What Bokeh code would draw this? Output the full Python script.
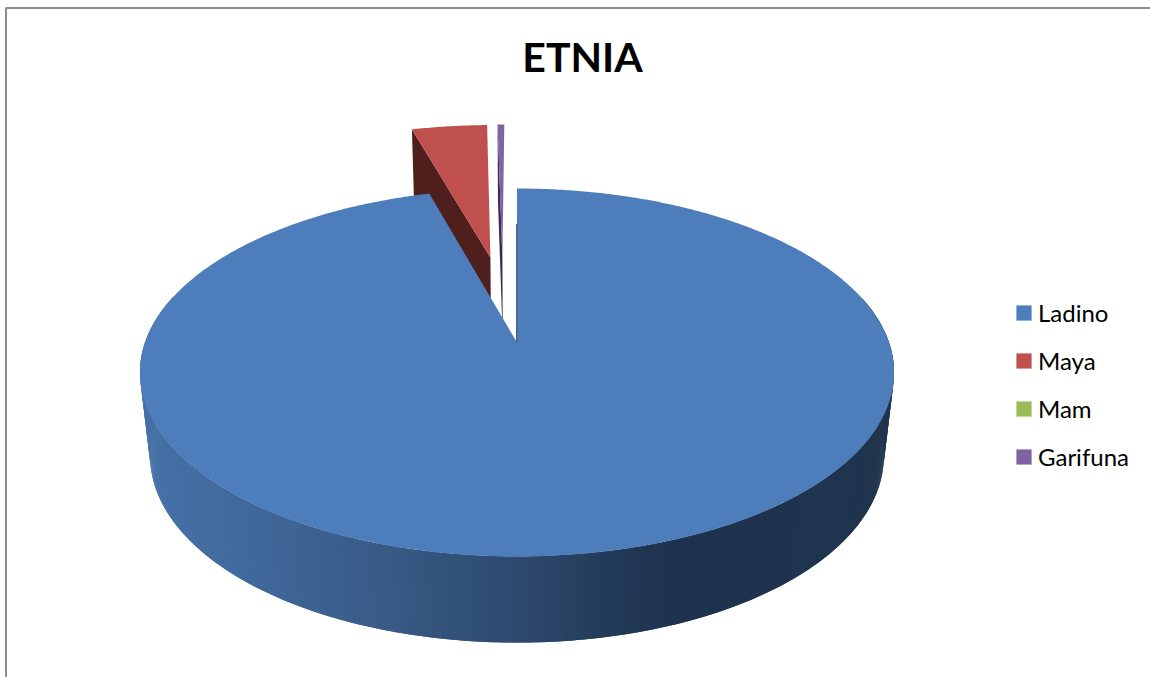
import math
from bokeh.plotting import figure
from bokeh.models import Range1d, Legend, LegendItem, ColumnDataSource
from bokeh.core.properties import value
from bokeh.embed import file_html
from bokeh.resources import INLINE

# ---- data ----
TITLE = "ETNIA"
categories = ["Ladino", "Maya", "Mam", "Garifuna"]
percent = [95.6, 4.04, 0.0, 0.36]
colors = ["#4D7EBB", "#C0504D", "#9BBB59", "#8064A2"]

# ---- projection of the tilted disc ----
X0, Y0 = 516.5, 342.0
RX, RY = 372.0, 179.1
PERSP = -0.163
DEPTH = 88.0
KX, KY = 0.027, 0.053
EXPLODE = [0.0, 0.52, 0.52, 0.52]
EXPLODE_TURN = [0.0, 0.0, 3.4, 3.4]


def project(u, v, z=0.0):
    base = 1 + PERSP * v
    return (X0 + RX * u / (base + KX * z),
            Y0 + (RY * v + DEPTH * z) / (base + KY * z))


def rim(theta, off, z=0.0):
    t = math.radians(theta)
    return project(off[0] + math.sin(t), off[1] - math.cos(t), z)


def apex(off, z=0.0):
    return project(off[0], off[1], z)


WALL_STOPS = [(141, (0x46, 0x72, 0xA8)), (260, (0x40, 0x68, 0x9A)),
              (390, (0x38, 0x5A, 0x85)), (516, (0x2D, 0x4A, 0x6F)),
              (640, (0x20, 0x36, 0x53)), (690, (0x1D, 0x32, 0x4E)),
              (894, (0x20, 0x35, 0x4E))]


def wall_color(x):
    for (a, ca), (b, cb) in zip(WALL_STOPS, WALL_STOPS[1:]):
        if x <= b:
            f = max(0.0, (x - a) / (b - a))
            return "#%02x%02x%02x" % tuple(round(p + (q - p) * f) for p, q in zip(ca, cb))
    return "#20354e"


p = figure(width=1150, height=677, output_backend="svg", toolbar_location=None,
           x_axis_type=None, y_axis_type=None,
           x_range=Range1d(0, 1150), y_range=Range1d(677, 0),
           min_border=0, outline_line_color=None)
p.grid.visible = False

# chart frame, cut by the picture's edge
p.line([5.5, 5.5, 1150], [677, 7.5, 7.5], line_color="#8c8c8c", line_width=2)

# slice angles
total = sum(percent)
spans = []
start = 0.0
for val in percent:
    end = start + val / total * 360.0
    spans.append((start, end))
    start = end

offsets = []
for i, (a, b) in enumerate(spans):
    mid = math.radians((a + b) / 2 if i == 1 else spans[1][1] - EXPLODE_TURN[i])
    offsets.append((EXPLODE[i] * math.sin(mid), -EXPLODE[i] * math.cos(mid)))

face_renderers = {}


def top_face(i):
    a, b = spans[i]
    n = max(2, int((b - a) * 2))
    pts = [apex(offsets[i])] + [rim(a + (b - a) * k / n, offsets[i]) for k in range(n + 1)]
    r = p.patch([q[0] for q in pts], [q[1] for q in pts], fill_color=colors[i],
                line_color=None)
    face_renderers[categories[i]] = r


def cut_face(i, color):
    a = spans[i][0]
    off = offsets[i]
    pts = [apex(off), rim(a, off), rim(a, off, 1.0), apex(off, 1.0)]
    p.patch([q[0] for q in pts], [q[1] for q in pts], fill_color=color, line_color=None)


# exploded small slices behind the big one
cut_face(1, "#4E1F1D")
top_face(1)
top_face(2)
cut_face(3, "#3A2A55")
top_face(3)

# wall of the big slice, painted left to right with overlap so no seams show
step = 0.5
off = offsets[0]
quads = []
theta = 285.0
while theta > 75.0:
    t_hi, t_lo = theta + step, theta - step
    q = [rim(t_hi, off), rim(t_lo, off), rim(t_lo, off, 1.0), rim(t_hi, off, 1.0)]
    quads.append(q)
    theta -= step
wall = ColumnDataSource(dict(
    xs=[[c[0] for c in q] for q in quads],
    ys=[[c[1] for c in q] for q in quads],
    col=[wall_color(sum(c[0] for c in q) / 4) for q in quads]))
p.patches("xs", "ys", source=wall, fill_color="col", line_color=None)

top_face(0)

# thin visible cut of the big slice
edge = [rim(0.0, offsets[0]), apex(offsets[0])]
f = 0.23
p.line([edge[0][0] - 0.3, edge[1][0] - 0.3],
       [edge[0][1] + (edge[1][1] - edge[0][1]) * f, edge[1][1]],
       line_color="#2A3F5F", line_width=1)

# title
p.text([582], [56], text=[TITLE], text_align="center", text_baseline="alphabetic",
       text_font=value("Lato"), text_font_style="bold", text_font_size="41px",
       text_color="#000000")

# legend
legend = Legend(items=[LegendItem(label=c, renderers=[face_renderers[c]]) for c in categories],
                location=(1014, 206), orientation="vertical",
                background_fill_alpha=0, border_line_color=None,
                glyph_width=19, glyph_height=19, label_standoff=5, spacing=19,
                padding=0, margin=0, label_height=19,
                label_text_font="Lato", label_text_font_size="24px",
                label_text_color="#000000")
p.add_layout(legend, "center")

open("out.html", "w").write(file_html(p, INLINE))
